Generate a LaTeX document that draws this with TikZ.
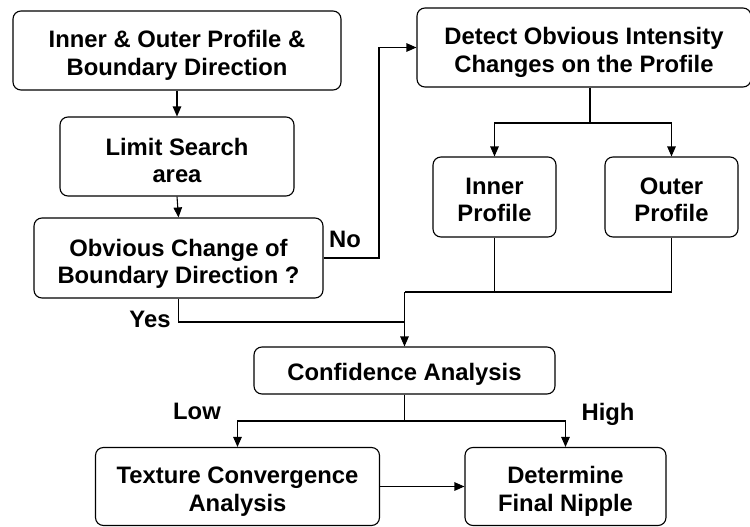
\documentclass[tikz,border=0pt]{standalone}
\usepackage{fontspec}
\setmainfont{Liberation Sans}
\usetikzlibrary{arrows.meta}
\begin{document}
\begin{tikzpicture}[x=1pt,y=-1pt,
  box/.style={draw=black, line width=1.1pt, rounded corners=8pt, inner sep=0pt},
  txt/.style={align=center, inner sep=0pt, font=\fontsize{23.8}{27.5}\selectfont\bfseries},
  lbl/.style={inner sep=0pt, font=\fontsize{23.8}{27.5}\selectfont\bfseries},
  conn/.style={line width=1.1pt, draw=black},
  arr/.style={conn, -{Triangle[length=10pt,width=8.5pt]}}]
\useasboundingbox (0,0) rectangle (750,527);
\node[box, minimum width=328pt, minimum height=79pt] (b1) at (177,50.5) {};
\node[box, minimum width=234pt, minimum height=79pt] (b2) at (177,156.5) {};
\node[box, minimum width=289pt, minimum height=80pt] (b3) at (178.5,258) {};
\node[box, minimum width=334pt, minimum height=79pt] (b4) at (584,47.5) {};
\node[box, minimum width=123pt, minimum height=80pt] (b5) at (494.5,197) {};
\node[box, minimum width=133pt, minimum height=80pt] (b6) at (671.5,197) {};
\node[box, minimum width=301pt, minimum height=47pt] (b7) at (404.5,370.5) {};
\node[box, minimum width=284pt, minimum height=78pt] (b8) at (237.5,486.5) {};
\node[box, minimum width=201pt, minimum height=78pt] (b9) at (565.5,486.5) {};
\node[txt] (t1) at ([yshift=-5pt]b1.center) {Inner \& Outer Profile \&\\Boundary Direction};
\node[txt] (t2) at ([yshift=-4pt]b2.center) {Limit Search\\area};
\node[txt] (t3) at ([yshift=-6pt]b3.center) {Obvious Change of\\Boundary Direction ?};
\node[txt] (t4) at ([yshift=-5pt]b4.center) {Detect Obvious Intensity\\Changes on the Profile};
\node[txt] (t5) at ([yshift=-3pt]b5.center) {Inner\\Profile};
\node[txt] (t6) at ([yshift=-3pt]b6.center) {Outer\\Profile};
\node[txt] (t7) at ([yshift=-3.5pt]b7.center) {Confidence Analysis};
\node[txt] (t8) at ([yshift=-5pt]b8.center) {Texture Convergence\\Analysis};
\node[txt] (t9) at ([yshift=-5pt]b9.center) {Determine\\Final Nipple};
\node[lbl] (no) at (345,239) {No};
\node[lbl] (yes) at (150,319) {Yes};
\node[lbl] (low) at (197,411) {Low};
\node[lbl] (high) at (608,414) {High};
\coordinate (nocorner) at (379,258);
\coordinate (ysplit) at (178.5,322);
\coordinate (yjoin) at (404.5,322);
\coordinate (dsplit) at (590,123);
\coordinate (mjoin) at (404.5,292);
\coordinate (csplit) at (404.5,421);
\draw[arr] (b1.south) -- (b2.north);
\draw[arr] (b2.south) -- (b3.north);
\draw[arr] (b3.east) -- (nocorner) |- (b4.west);
\draw[conn] (b3.south) -- (ysplit) -- (yjoin);
\draw[conn] ([xshift=6pt]b4.south) -- (dsplit);
\draw[arr] (dsplit) -| (b5.north);
\draw[arr] (dsplit) -| (b6.north);
\draw[conn] (b5.south) |- (mjoin);
\draw[conn] (b6.south) |- (mjoin);
\draw[arr] (mjoin) -- (b7.north);
\draw[conn] (b7.south) -- (csplit);
\draw[arr] (csplit) -| (b8.north);
\draw[arr] (csplit) -| (b9.north);
\draw[arr] (b8.east) -- (b9.west);
\end{tikzpicture}
\end{document}
